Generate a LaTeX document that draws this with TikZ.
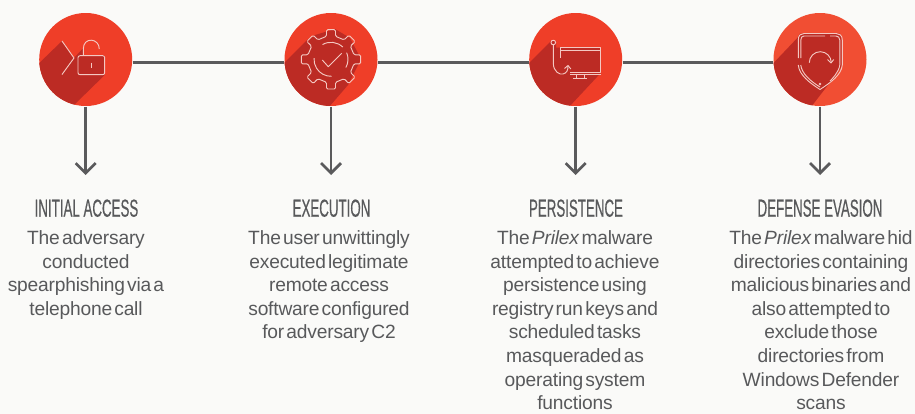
\documentclass[tikz,border=0pt]{standalone}
\usepackage{fontspec}
\usetikzlibrary{arrows.meta}
\newfontfamily\captionfont[FakeStretch=0.54,FakeBold=0.4]{Liberation Sans}
\newfontfamily\copyfont[WordSpace=0.42,LetterSpace=-1]{Liberation Sans}
\definecolor{pagebg}{RGB}{250,250,248}
\definecolor{discred}{RGB}{239,62,40}
\definecolor{discpale}{RGB}{241,78,51}
\definecolor{shadered}{RGB}{188,43,36}
\definecolor{iconline}{RGB}{244,200,194}
\definecolor{wire}{RGB}{90,90,92}
\definecolor{inktext}{RGB}{88,89,91}
\tikzset{every picture/.style={line width=0.75pt}}
\tikzset{
  stepdisc/.style={circle,fill=discred,minimum size=69.75pt,inner sep=0pt},
  linkline/.style={draw=wire,line width=2pt},
  dropline/.style={draw=wire,line width=2pt,-{Straight Barb[length=7.5pt,width=15pt]}},
  iconstroke/.style={draw=iconline,line width=0.7pt,line join=round},
  stagetitle/.style={anchor=base,inner sep=0pt,text=inktext,font=\captionfont\fontsize{18.5}{20}\selectfont},
  stagecopy/.style={anchor=north,inner sep=0pt,align=center,text=inktext,font=\copyfont\fontsize{14.4}{17.7}\selectfont}
}

\begin{document}
\begin{tikzpicture}[x=0.75pt,y=0.75pt,yscale=-1,xscale=1]
\useasboundingbox (0,0) rectangle (915,414);
\fill [pagebg] (0,0) rectangle (915,414);
% Discs
\node [stepdisc] (step1) at (85.7,59.5) {};
\node [stepdisc] (step2) at (331,59.5) {};
\node [stepdisc] (step3) at (575.7,59.5) {};
\node [stepdisc,fill=discpale] (step4) at (820,59.5) {};
% Arrow ends
\coordinate (end1) at (85.7,175);
\coordinate (end2) at (331,175);
\coordinate (end3) at (575.7,175);
\coordinate (end4) at (820,175);
%Straight Lines
\draw [linkline] ([yshift=2.25pt]step1.east) -- ([yshift=2.25pt]step2.west) ;
\draw [linkline] ([yshift=2.25pt]step2.east) -- ([yshift=2.25pt]step3.west) ;
\draw [linkline] ([yshift=2.25pt]step3.east) -- ([yshift=2.25pt]step4.west) ;
\draw [dropline] (step1.south) -- (end1) ;
\draw [dropline] (step2.south) -- (end2) ;
\draw [dropline] (step3.south) -- (end3) ;
\draw [dropline] (step4.south) -- (end4) ;
%Shape: Shadow
\begin{scope}
\clip (85.7,59.5) circle [radius=46.5];
\fill [shadered] (30,72) -- (62,41) -- (74,58) -- (83.3,48) -- (83.3,55.7) -- (104.7,55.7) -- (104.7,75) -- (74,105) -- (30,112) -- cycle ;
\end{scope}
\begin{scope}
\clip (331,59.5) circle [radius=46.5];
\fill [shadered] (275,72) -- (307,40) -- (315,35) -- (335,29) -- (350,38) -- (361,59) -- (348,85) -- (329,107) -- (275,112) -- cycle ;
\end{scope}
\begin{scope}
\clip (575.7,59.5) circle [radius=46.5];
\fill [shadered] (520,72) -- (551,41) -- (556,41) -- (556,47.7) -- (600.7,47.7) -- (600.7,73) -- (569,107) -- (520,112) -- cycle ;
\end{scope}
\begin{scope}
\clip (820,59.5) circle [radius=46.5];
\fill [shadered] (765,72) -- (797.3,38) -- (800,33.5) -- (840,33.5) -- (841.7,38) -- (841.7,66) -- (835,77) -- (828,85) -- (811,107) -- (765,112) -- cycle ;
\end{scope}
%Shape: Lock
\draw [iconstroke] (62,41) -- (74,58) -- (62,74.5) ;
\draw [iconstroke,rounded corners=1.5] (78,55.7) rectangle (104.7,74.7) ;
\draw [iconstroke] (83.3,55.7) -- (83.3,49) .. controls (83.3,36.5) and (99.3,38) .. (99.3,49) ;
\draw [iconstroke] (91.3,62.5) -- (91.3,68) ;
%Shape: Gear
\begin{scope}[shift={(331,59.3)}]
\draw [iconstroke,rounded corners=1] (-4.5,-23) -- (-4.5,-29.7) -- (4.5,-29.7) -- (4.5,-23) -- (13.1,-19.4) -- (17.8,-24.2) -- (24.2,-17.8) -- (19.4,-13.1) -- (23,-4.5) -- (29.7,-4.5) -- (29.7,4.5) -- (23,4.5) -- (19.4,13.1) -- (24.2,17.8) -- (17.8,24.2) -- (13.1,19.4) -- (4.5,23) -- (4.5,29.7) -- (-4.5,29.7) -- (-4.5,23) -- (-13.1,19.4) -- (-17.8,24.2) -- (-24.2,17.8) -- (-19.4,13.1) -- (-23,4.5) -- (-29.7,4.5) -- (-29.7,-4.5) -- (-23,-4.5) -- (-19.4,-13.1) -- (-24.2,-17.8) -- (-17.8,-24.2) -- (-13.1,-19.4) -- cycle ;
\draw [iconstroke] (240:17) arc [start angle=240,end angle=314,radius=17] ;
\draw [iconstroke] (337:17) arc [start angle=337,end angle=389,radius=17] ;
\draw [iconstroke] (88:17) arc [start angle=88,end angle=184,radius=17] ;
\draw [iconstroke] (-8.7,0.7) -- (-2.7,7.4) -- (10.7,-6) ;
\end{scope}
%Shape: Hook and Monitor
\draw [iconstroke] (553.3,42.5) circle [radius=2.3] ;
\draw [iconstroke] (553.3,44.8) -- (553.3,63) .. controls (553.3,72) and (560,75) .. (563,74) .. controls (567,73) and (568,70) .. (568,66) ;
\draw [iconstroke] (564.5,68.5) -- (568,65.5) -- (570.8,69) ;
\draw [iconstroke] (560,58) -- (560,47.5) -- (600.7,47.5) -- (600.7,72.7) -- (570,72.7) ;
\draw [iconstroke] (561,50.3) -- (599.5,50.3) ;
\draw [iconstroke] (570,74) -- (600.7,74) ;
\draw [iconstroke] (576.7,74) -- (576.7,78) ;
\draw [iconstroke] (584.3,74) -- (584.3,78) ;
\draw [iconstroke] (573.3,78) -- (587.3,78) ;
%Shape: Shield
\draw [iconstroke] (798.3,65) .. controls (799,75) and (810,83) .. (820,89.5) .. controls (830,83) and (841.5,75) .. (842.3,65) -- (842.3,40) .. controls (842.3,35) and (839,33.5) .. (836,33.5) -- (804,33.5) .. controls (801,33.5) and (798.3,35) .. (798.3,40) -- (798.3,58) ;
\draw [iconstroke] (800.8,58) -- (800.8,40) .. controls (800.8,37.5) and (802,36) .. (804,36) -- (825,36) ;
\draw [iconstroke] (830,36) -- (836,36) .. controls (838,36) and (839.8,37.5) .. (839.8,40) -- (839.8,65) .. controls (839,72) and (832,79) .. (830,81) ;
\draw [iconstroke] (800.8,65) .. controls (801.5,73) and (810,81) .. (820,87) ;
\draw [iconstroke] (809.3,62.7) arc [start angle=180,end angle=360,radius=11] ;
\draw [iconstroke] (827.5,59.5) -- (831,63) -- (833.7,59.5) ;
\fill [iconline] (820,84) circle [radius=1.3] ;
% Text Node
\node [stagetitle] (title1) at (86.5,216.7) {INITIAL ACCESS};
\node [stagetitle] (title2) at (331.5,216.7) {EXECUTION};
\node [stagetitle] (title3) at (576,216.7) {PERSISTENCE};
\node [stagetitle] (title4) at (820,216.7) {DEFENSE EVASION};
% Text Node
\node [stagecopy] (copy1) at (86,230) {The adversary\\conducted\\spearphishing via a\\telephone call};
\node [stagecopy] (copy2) at (329,230) {The user unwittingly\\executed legitimate\\remote access\\software configured\\for adversary C2};
\node [stagecopy] (copy3) at (575,230) {The \textit{Prilex} malware\\attempted to achieve\\persistence using\\registry run keys and\\scheduled tasks\\masqueraded as\\operating system\\functions};
\node [stagecopy] (copy4) at (821,230) {The \textit{Prilex} malware hid\\directories containing\\malicious binaries and\\also attempted to\\exclude those\\directories from\\Windows Defender\\scans};
\end{tikzpicture}
\end{document}
